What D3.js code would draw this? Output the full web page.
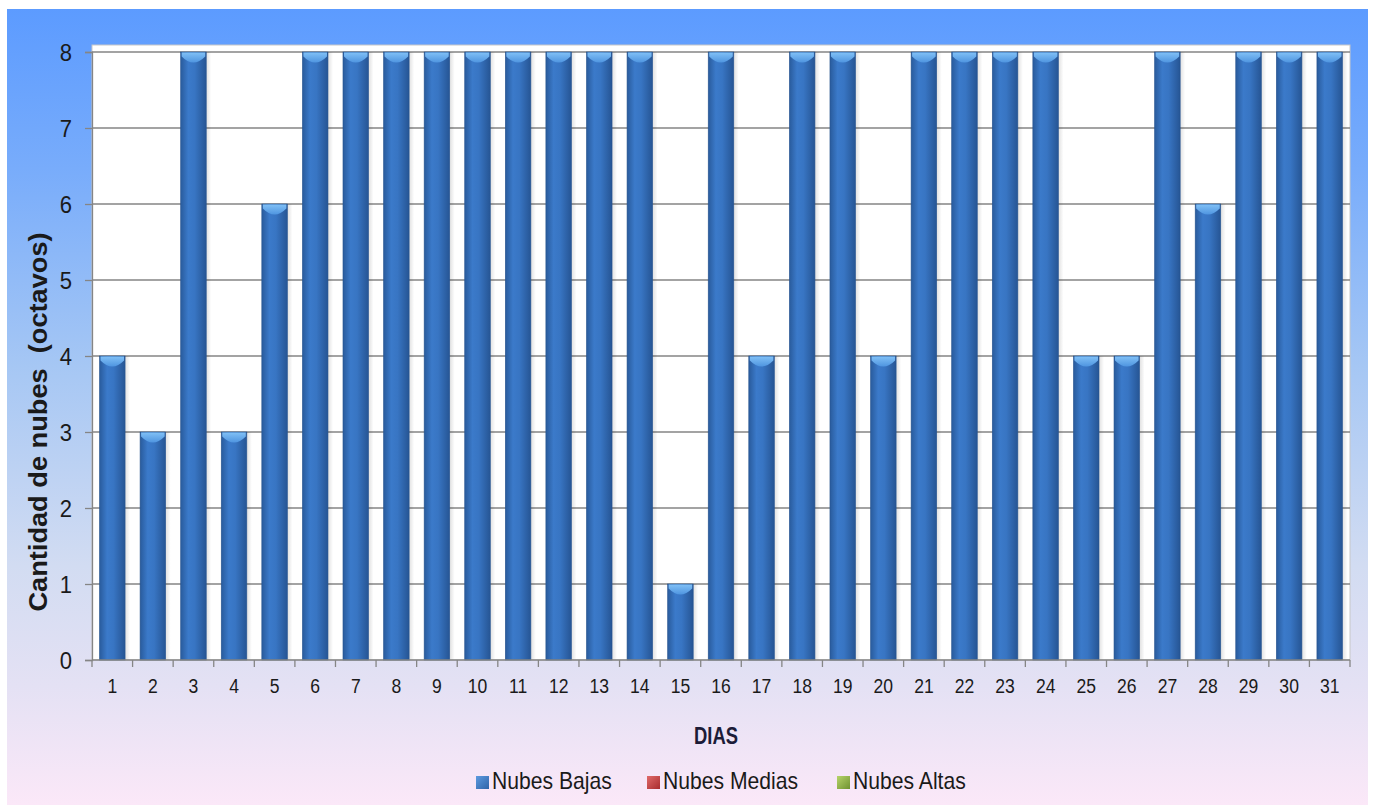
<!DOCTYPE html>
<html>
<head>
<meta charset="utf-8">
<script src="https://cdnjs.cloudflare.com/ajax/libs/d3/7.8.5/d3.min.js"></script>
<style>
  body { margin: 0; background: #fff; }
  svg { display: block; }
  text { font-family: "Liberation Sans", Arial, sans-serif; }
</style>
</head>
<body>
<svg id="chart"></svg>
<script>
var width = 1373;
var height = 805;

// data
var days = d3.range(1, 32).map(String);
var nubesBajas = [4, 3, 8, 3, 6, 8, 8, 8, 8, 8, 8, 8, 8, 8, 1, 8, 4, 8, 8, 4, 8, 8, 8, 8, 4, 4, 8, 6, 8, 8, 8];
var yTicks = [0, 1, 2, 3, 4, 5, 6, 7, 8];
var seriesNames = ["Nubes Bajas", "Nubes Medias", "Nubes Altas"];
var seriesColors = [["#5c9ae0", "#2f64a8"], ["#e06a6a", "#a82c2e"], ["#b6d46a", "#6f9230"]];

var plot = { left: 92, right: 1350, top: 45, bottom: 660 };
var squeeze = 0.92; // the text in the picture is a bit narrow

var svg = d3.select("#chart")
    .attr("width", width)
    .attr("height", height);

var defs = svg.append("defs");

// background gradient blue -> pink
var bg = defs.append("linearGradient").attr("id", "bg")
    .attr("x1", 0).attr("y1", 0).attr("x2", 0).attr("y2", 1);
[["0%", "#5c9bff"], ["20%", "#78acfb"], ["45%", "#a6c7f4"], ["70%", "#d2dcf2"], ["85%", "#e4e1f4"], ["100%", "#fbe8f8"]]
  .forEach(s => bg.append("stop").attr("offset", s[0]).attr("stop-color", s[1]));

// bar body: darker edges, lighter left-centre
var barGrad = defs.append("linearGradient").attr("id", "barGrad")
    .attr("x1", 0).attr("y1", 0).attr("x2", 1).attr("y2", 0);
[["0%", "#295b9c"], ["30%", "#3b7aca"], ["55%", "#3875c3"], ["100%", "#265594"]]
  .forEach(s => barGrad.append("stop").attr("offset", s[0]).attr("stop-color", s[1]));

var capGrad = defs.append("linearGradient").attr("id", "capGrad")
    .attr("x1", 0).attr("y1", 0).attr("x2", 0).attr("y2", 1);
[["0%", "#80c0f6"], ["100%", "#4f95e0"]]
  .forEach(s => capGrad.append("stop").attr("offset", s[0]).attr("stop-color", s[1]));

var shadowGrad = defs.append("linearGradient").attr("id", "shadowGrad")
    .attr("x1", 0).attr("y1", 0).attr("x2", 1).attr("y2", 0);
shadowGrad.append("stop").attr("offset", "0%").attr("stop-color", "#000").attr("stop-opacity", 0.12);
shadowGrad.append("stop").attr("offset", "100%").attr("stop-color", "#000").attr("stop-opacity", 0);

seriesColors.forEach((c, i) => {
  var g = defs.append("linearGradient").attr("id", "leg" + i)
      .attr("x1", 0).attr("y1", 0).attr("x2", 1).attr("y2", 1);
  g.append("stop").attr("offset", "0%").attr("stop-color", c[0]);
  g.append("stop").attr("offset", "100%").attr("stop-color", c[1]);
});

svg.append("rect")
    .attr("x", 7).attr("y", 9)
    .attr("width", 1361).attr("height", height - 9)
    .attr("fill", "url(#bg)");

// plot area
svg.append("rect")
    .attr("x", plot.left).attr("y", plot.top)
    .attr("width", plot.right - plot.left).attr("height", plot.bottom - plot.top)
    .attr("fill", "#fff")
    .attr("stroke", "#c8c8c8")
    .attr("stroke-width", 1);

var x = d3.scaleBand()
    .domain(days)
    .range([plot.left, plot.right])
    .paddingInner(0.37)
    .paddingOuter(0.185);

var y = d3.scaleLinear()
    .domain([0, 8])
    .range([plot.bottom, 52]);

// gridlines
svg.append("g")
  .selectAll("line")
  .data(yTicks.filter(d => d > 0))
  .enter().append("line")
    .attr("x1", plot.left).attr("x2", plot.right)
    .attr("y1", d => y(d)).attr("y2", d => y(d))
    .attr("stroke", "#858585")
    .attr("stroke-width", 1.3);

// bars
var bars = svg.append("g")
  .selectAll("g")
  .data(nubesBajas)
  .enter().append("g");

bars.append("rect")
    .attr("x", (d, i) => x(days[i]) + x.bandwidth())
    .attr("y", d => y(d))
    .attr("width", 5)
    .attr("height", d => y(0) - y(d))
    .attr("fill", "url(#shadowGrad)");

bars.append("rect")
    .attr("x", (d, i) => x(days[i]))
    .attr("y", d => y(d))
    .attr("width", x.bandwidth())
    .attr("height", d => y(0) - y(d))
    .attr("fill", "url(#barGrad)")
    .attr("stroke", "#27548f")
    .attr("stroke-width", 0.6);

// top cap, curved underside
bars.append("path")
    .attr("d", (d, i) => {
      var x0 = x(days[i]) + 1, w = x.bandwidth() - 2, t = y(d) + 0.5;
      return "M" + x0 + "," + t + " L" + (x0 + w) + "," + t +
             " L" + (x0 + w) + "," + (t + 4) +
             " Q" + (x0 + w / 2) + "," + (t + 16) + " " + x0 + "," + (t + 4) + " Z";
    })
    .attr("fill", "url(#capGrad)");

// y axis
var yAxis = svg.append("g")
    .attr("transform", "translate(" + plot.left + ",0)")
    .call(d3.axisLeft(y).tickValues(yTicks).tickSize(7).tickFormat(d3.format("d")));
yAxis.select(".domain").attr("stroke", "#858585").attr("stroke-width", 1.3);
yAxis.selectAll(".tick line").attr("stroke", "#858585").attr("stroke-width", 1.3);
yAxis.selectAll("text")
    .attr("x", -20 / squeeze)
    .attr("dy", "0.36em")
    .attr("transform", "scale(" + squeeze + ",1)")
    .attr("font-size", 24)
    .attr("fill", "#1a1a1a");

// x axis
svg.append("line")
    .attr("x1", plot.left).attr("x2", plot.right)
    .attr("y1", y(0)).attr("y2", y(0))
    .attr("stroke", "#858585").attr("stroke-width", 1.3);

var xAxis = svg.append("g")
    .attr("transform", "translate(0," + y(0) + ")")
    .call(d3.axisBottom(x).tickSize(0));
xAxis.select(".domain").remove();
xAxis.selectAll("text")
    .attr("y", 33)
    .attr("dy", null)
    .attr("transform", "scale(0.9,1)")
    .attr("font-size", 19.5)
    .attr("fill", "#1a1a1a");

// x ticks sit between the bars
svg.append("g")
  .selectAll("line")
  .data(d3.range(days.length + 1))
  .enter().append("line")
    .attr("x1", i => plot.left + i * x.step())
    .attr("x2", i => plot.left + i * x.step())
    .attr("y1", y(0)).attr("y2", y(0) + 7)
    .attr("stroke", "#858585").attr("stroke-width", 1.3);

// axis titles
svg.append("text")
    .attr("transform", "translate(47,422) rotate(-90) scale(1.088,1)")
    .attr("text-anchor", "middle")
    .attr("font-weight", "bold")
    .attr("font-size", 25)
    .attr("fill", "#1a1a1a")
    .attr("xml:space", "preserve")
    .text("Cantidad de nubes  (octavos)");

svg.append("text")
    .attr("transform", "translate(716,744) scale(0.8,1)")
    .attr("text-anchor", "middle")
    .attr("font-weight", "bold")
    .attr("font-size", 23)
    .attr("fill", "#1c1c38")
    .text("DIAS");

// legend
var legendX = [476, 647, 837];
var legend = svg.append("g")
  .selectAll("g")
  .data(seriesNames)
  .enter().append("g")
    .attr("transform", (d, i) => "translate(" + legendX[i] + ",789)");

legend.append("rect")
    .attr("x", 0).attr("y", -13)
    .attr("width", 13).attr("height", 13)
    .attr("fill", (d, i) => "url(#leg" + i + ")");

legend.append("text")
    .attr("transform", "translate(16,0) scale(" + squeeze + ",1)")
    .attr("font-size", 23)
    .attr("fill", "#1a1a1a")
    .text(d => d);
</script>
</body>
</html>
